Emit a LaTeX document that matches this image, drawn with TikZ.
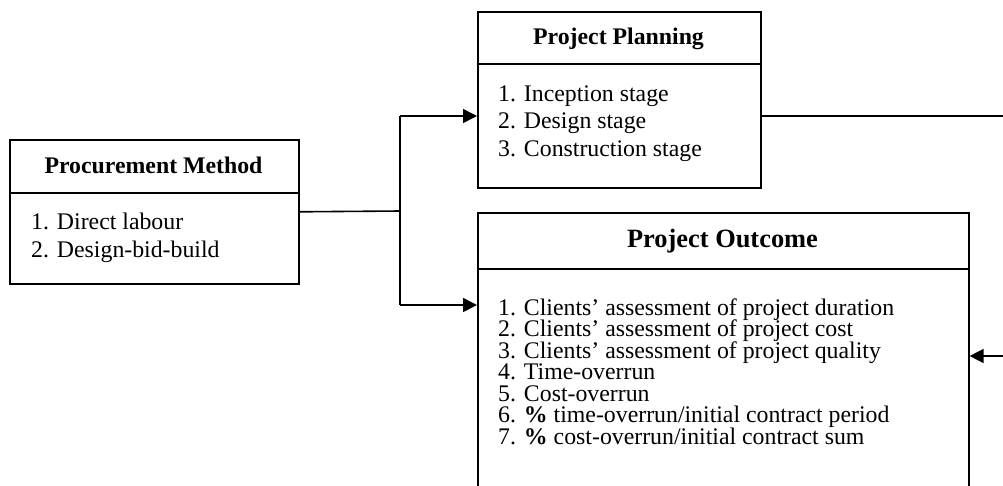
\documentclass[tikz,border=0pt]{standalone}
\usepackage{fontspec}
\setmainfont{Liberation Serif}
\usetikzlibrary{arrows.meta}
\begin{document}
\begin{tikzpicture}[x=1pt,y=-1pt,
  box/.style={draw, line width=1.6pt, rectangle, anchor=north west, inner sep=0pt},
  rule/.style={line width=1.6pt},
  conn/.style={line width=1.6pt},
  arr/.style={conn, -{Triangle[length=14pt,width=14pt]}},
  ttl/.style={font=\bfseries\fontsize{23.8}{28}\selectfont, anchor=base, inner sep=0pt},
  bigttl/.style={font=\bfseries\fontsize{26.4}{30}\selectfont, anchor=base, inner sep=0pt},
  item/.style={font=\fontsize{23.8}{28}\selectfont, anchor=base west, inner sep=0pt}]
\useasboundingbox (0,0) rectangle (1003,485);
\clip (0,0) rectangle (1003,485);
% boxes
\node[box, minimum width=289pt, minimum height=144pt] (proc) at (9,139) {};
\node[box, minimum width=283pt, minimum height=176pt] (plan) at (477,11) {};
\node[box, minimum width=491pt, minimum height=320pt] (out) at (477,212) {};
% dividers
\draw[rule] (proc.west |- 0,193) -- (proc.east |- 0,193);
\draw[rule] (plan.west |- 0,64) -- (plan.east |- 0,64);
\draw[rule] (out.west |- 0,269) -- (out.east |- 0,269);
% titles
\node[ttl] (proctitle) at (153.5,173) {Procurement Method};
\node[ttl] (plantitle) at (618.5,44) {Project Planning};
\node[bigttl] (outtitle) at (722.5,247) {Project Outcome};
% items
\node[item] (p1) at (31,229) {1. Direct labour};
\node[item] (p2) at (31,257) {2. Design-bid-build};
\node[item] (q1) at (498,101) {1. Inception stage};
\node[item] (q2) at (498,128.5) {2. Design stage};
\node[item] (q3) at (498,156) {3. Construction stage};
\node[item] (o1) at (498,315) {1. Clients’ assessment of project duration};
\node[item] (o2) at (498,336.5) {2. Clients’ assessment of project cost};
\node[item] (o3) at (498,358) {3. Clients’ assessment of project quality};
\node[item] (o4) at (498,379.5) {4. Time-overrun};
\node[item] (o5) at (498,401) {5. Cost-overrun};
\node[item] (o6) at (498,422.5) {6. \textbf{\%} time-overrun/initial contract period};
\node[item] (o7) at (498,444) {7. \textbf{\%} cost-overrun/initial contract sum};
% connectors
\coordinate (jmid) at (400,211);
\coordinate (jtop) at (400,116);
\coordinate (jbot) at (400,305);
\coordinate (rtop) at (1010,116);
\coordinate (rbot) at (1010,356);
\draw[conn] (proc.east) -- (jmid);
\draw[conn] (jtop) -- (jbot);
\draw[arr] (jtop) -- (jtop -| plan.west);
\draw[arr] (jbot) -- (jbot -| out.west);
\draw[conn] (rtop -| plan.east) -- (rtop);
\draw[arr] (rbot) -- (rbot -| out.east);
\end{tikzpicture}
\end{document}
